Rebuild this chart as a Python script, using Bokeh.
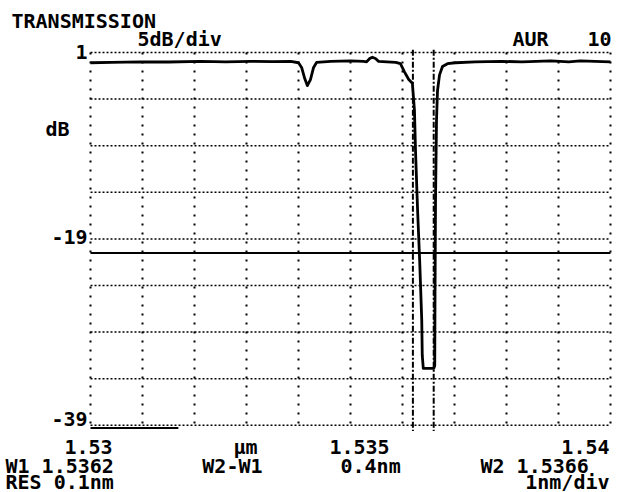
from bokeh.plotting import figure
from bokeh.models import Label, Range1d
from bokeh.embed import file_html
from bokeh.resources import INLINE

# ---- data ----
wavelength_um = [
    1.53000, 1.53040, 1.53096, 1.53150, 1.53212, 1.53260, 1.53308, 1.53350, 1.53385,
    1.53400, 1.53406, 1.53412, 1.53417, 1.53423, 1.53429, 1.53435,
    1.53462, 1.53500, 1.53525, 1.53531, 1.53537, 1.53542, 1.53548, 1.53554, 1.53570, 1.53587,
    1.53596, 1.53604, 1.53612, 1.53619, 1.53623, 1.53625, 1.53629, 1.53633, 1.53637, 1.53638, 1.53640,
    1.53660, 1.53662, 1.536625, 1.536635, 1.536654, 1.536673, 1.536712, 1.536769, 1.536865, 1.537019,
    1.53740, 1.53790, 1.53830, 1.53885, 1.53920, 1.53942, 1.53970, 1.54000,
]
transmission_db = [
    -0.10, -0.05, 0.00, -0.02, 0.05, 0.00, 0.05, 0.02, 0.05,
    -0.10, -0.60, -1.80, -2.55, -1.90, -0.60, -0.05,
    0.05, 0.10, 0.05, 0.00, 0.35, 0.50, 0.35, 0.05, 0.00, -0.05,
    -0.20, -1.10, -1.90, -2.30, -5.20, -9.50, -15.90, -21.30, -27.70, -31.50, -32.90,
    -32.90, -32.60, -25.60, -14.90, -6.30, -3.10, -1.40, -0.50, -0.20, -0.10,
    0.00, 0.05, 0.00, 0.10, 0.00, 0.10, 0.05, 0.00,
]

x_grid_um = [1.530, 1.531, 1.532, 1.533, 1.534, 1.535, 1.536, 1.537, 1.538, 1.539, 1.540]
y_grid_db = [1, -4, -9, -14, -19, -24, -29, -34, -39]

x_tick_vals = [1.53, 1.535, 1.54]
x_tick_labels = ["1.53", "1.535", "1.54"]
y_tick_vals = [1, -19, -39]
y_tick_labels = ["1", "-19", "-39"]

w1_um = 1.5362
w2_um = 1.5366
threshold_db = -20.5
marker_bar_um = [1.53, 1.53169]
marker_bar_db = -39.3

FONT = "DejaVu Sans Mono"
FS = "20px"

um_per_px = 0.001 / 52.0
db_per_px = 5.0 / 46.6
W, H = 623, 492
X0_PX, Y0_PX = 90, 52  # screen position of (1.53 um, 1 dB)
TXT_SHIFT = 7          # text baseline correction, px

x_lo = x_grid_um[0] - X0_PX * um_per_px
x_hi = x_grid_um[0] + (W - X0_PX) * um_per_px
y_hi = y_grid_db[0] + Y0_PX * db_per_px
y_lo = y_grid_db[0] - (H - Y0_PX) * db_per_px

p = figure(width=W, height=H, output_backend="svg", toolbar_location=None,
           x_range=Range1d(x_lo, x_hi), y_range=Range1d(y_lo, y_hi), min_border=0)
p.xaxis.visible = False
p.yaxis.visible = False
p.grid.visible = False
p.outline_line_color = None
p.background_fill_color = "white"
p.border_fill_color = "white"

# dotted grid
p.segment(x0=x_grid_um, x1=x_grid_um, y0=[y_grid_db[0]] * len(x_grid_um),
          y1=[y_grid_db[-1]] * len(x_grid_um), line_color="black", line_width=2,
          line_dash="2 7")
p.segment(x0=[x_grid_um[0]] * len(y_grid_db), x1=[x_grid_um[-1]] * len(y_grid_db),
          y0=y_grid_db, y1=y_grid_db, line_color="black", line_width=1.5, line_dash="2 2")

# markers W1 / W2
p.segment(x0=[w1_um, w2_um], x1=[w1_um, w2_um], y0=[y_grid_db[0] + 0.3] * 2,
          y1=[y_grid_db[-1] - 0.6] * 2, line_color="black", line_width=2, line_dash="6 2 2 2")

# threshold line
p.segment(x0=[x_grid_um[0]], y0=[threshold_db], x1=[x_grid_um[-1]], y1=[threshold_db],
          line_color="black", line_width=2)
# small bar under the bottom-left grid
p.segment(x0=[marker_bar_um[0]], y0=[marker_bar_db], x1=[marker_bar_um[1]], y1=[marker_bar_db],
          line_color="black", line_width=2)

p.line(wavelength_um, transmission_db, line_color="black", line_width=2.8, line_join="round")


def px_x(px):
    return x_grid_um[0] + (px - X0_PX) * um_per_px


def px_y(py):
    return y_grid_db[0] - (py - TXT_SHIFT - Y0_PX) * db_per_px


def lab(text, x, y, align="left"):
    p.add_layout(Label(x=x, y=y, text=text, text_align=align, text_baseline="alphabetic",
                       text_font=FONT, text_font_size=FS, text_font_style="bold",
                       text_color="black"))


# top texts
lab("TRANSMISSION", px_x(11), px_y(27))
lab("5dB/div", px_x(137), px_y(45))
lab("AUR", px_x(512), px_y(45))
lab("10", px_x(611), px_y(45), "right")

# y tick labels
y_base = [px_y(58), px_y(243), px_y(425)]
for v, t, yb in zip(y_tick_vals, y_tick_labels, y_base):
    lab(t, px_x(87), yb, "right")
lab("dB", px_x(69), px_y(135), "right")

# x tick labels
row1, row2, row3 = px_y(453), px_y(472), px_y(488)
x_lab_px = [88, 359, 609]
aligns = ["center", "center", "right"]
for t, xp, a in zip(x_tick_labels, x_lab_px, aligns):
    lab(t, px_x(xp), row1, a)
lab("\u00b5m", px_x(245), row1, "center")

lab("W1 1.5362", px_x(5), row2)
lab("W2-W1", px_x(262), row2, "right")
lab("0.4nm", px_x(340), row2)
lab("W2 1.5366", px_x(480), row2)
lab("RES 0.1nm", px_x(5), row3)
lab("1nm/div", px_x(609), row3, "right")

open("out.html", "w").write(file_html(p, INLINE))
